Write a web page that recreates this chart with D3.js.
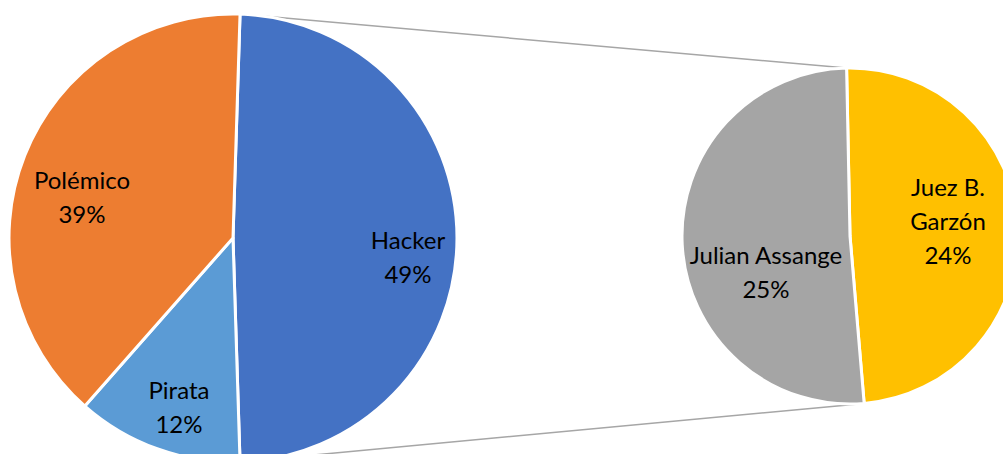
<!DOCTYPE html>
<html>
<head>
<meta charset="utf-8">
<script src="https://cdn.jsdelivr.net/npm/d3@7/dist/d3.min.js"></script>
<style>
  html, body { margin: 0; padding: 0; background: #fff; overflow: hidden; }
  svg { display: block; }
  text { font-family: Lato, "Open Sans", sans-serif; fill: #000; }
</style>
</head>
<body>
<svg id="chart" width="1003" height="454"></svg>
<script>
// Main pie: share of each category (percent)
const mainCategories = ["Hacker", "Pirata", "Polémico"];
const mainValues = [49, 12, 39];
const mainColors = ["#4472C4", "#5B9BD5", "#ED7D31"];

// Secondary pie: breakdown of the "Hacker" slice (percent of total)
const subCategories = ["Juez B. Garzón", "Julian Assange"];
const subLabelLines = [["Juez B.", "Garzón"], ["Julian Assange"]];
const subValues = [24, 25];
const subColors = ["#FFC000", "#A5A5A5"];

const svg = d3.select("#chart");

const main = { cx: 233, cy: 238, r: 224 };
const sub = { cx: 850, cy: 236, r: 168 };

const deg = Math.PI / 180;
const mainTotal = d3.sum(mainValues);
const subTotal = d3.sum(subValues);

// The split slice is centred on 3 o'clock in the main pie
const mainStart = Math.PI / 2 - (mainValues[0] / mainTotal) * Math.PI;
const mainPie = d3.pie().sort(null).value(d => d)
  .startAngle(mainStart).endAngle(mainStart + 2 * Math.PI);
const mainArcs = mainPie(mainValues);

const subStart = Math.PI / 2 - 3 * deg - (subValues[0] / subTotal) * Math.PI;
const subPie = d3.pie().sort(null).value(d => d)
  .startAngle(subStart).endAngle(subStart + 2 * Math.PI);
const subArcs = subPie(subValues);

const mainArc = d3.arc().innerRadius(0).outerRadius(main.r);
const subArc = d3.arc().innerRadius(0).outerRadius(sub.r);

function polar(c, angle, r) {
  return [c.cx + r * Math.sin(angle), c.cy - r * Math.cos(angle)];
}

// Connector lines between the split slice and the secondary pie
const split = mainArcs[0];
const joinPairs = [
  [polar(main, split.startAngle, main.r), polar(sub, subArcs[0].startAngle, sub.r)],
  [polar(main, split.endAngle, main.r), polar(sub, subArcs[0].endAngle, sub.r)]
];
svg.append("g").selectAll("line").data(joinPairs).join("line")
  .attr("x1", d => d[0][0]).attr("y1", d => d[0][1])
  .attr("x2", d => d[1][0]).attr("y2", d => d[1][1])
  .attr("stroke", "#A6A6A6").attr("stroke-width", 1.5);

// Main pie slices
svg.append("g").attr("transform", `translate(${main.cx},${main.cy})`)
  .selectAll("path").data(mainArcs).join("path")
  .attr("d", mainArc)
  .attr("fill", (d, i) => mainColors[i])
  .attr("stroke", "#fff").attr("stroke-width", 3).attr("stroke-linejoin", "round");

// Secondary pie slices
svg.append("g").attr("transform", `translate(${sub.cx},${sub.cy})`)
  .selectAll("path").data(subArcs).join("path")
  .attr("d", subArc)
  .attr("fill", (d, i) => subColors[i])
  .attr("stroke", "#fff").attr("stroke-width", 3).attr("stroke-linejoin", "round");

// Data labels: category name and percentage, placed in each slice
const fontSize = 24, lineH = 34;
const mainLabelPos = [[175, 19], [-54, 169], [-151, -41]];   // offsets from pie centre
const subLabelPos = [[98, -15], [-84, 36]];

function drawLabel(c, offset, lines) {
  const n = lines.length;
  const g = svg.append("text")
    .attr("text-anchor", "middle")
    .attr("font-size", fontSize);
  lines.forEach((t, k) => {
    g.append("tspan")
      .attr("x", c.cx + offset[0])
      .attr("y", c.cy + offset[1] + (k - (n - 1) / 2) * lineH)
      .attr("dy", "0.36em")
      .text(t);
  });
}

mainArcs.forEach((a, i) => {
  const pct = Math.round(a.value / mainTotal * 100) + "%";
  drawLabel(main, mainLabelPos[i], [mainCategories[i], pct]);
});
subArcs.forEach((a, i) => {
  const pct = a.value + "%";
  drawLabel(sub, subLabelPos[i], subLabelLines[i].concat([pct]));
});
</script>
</body>
</html>
